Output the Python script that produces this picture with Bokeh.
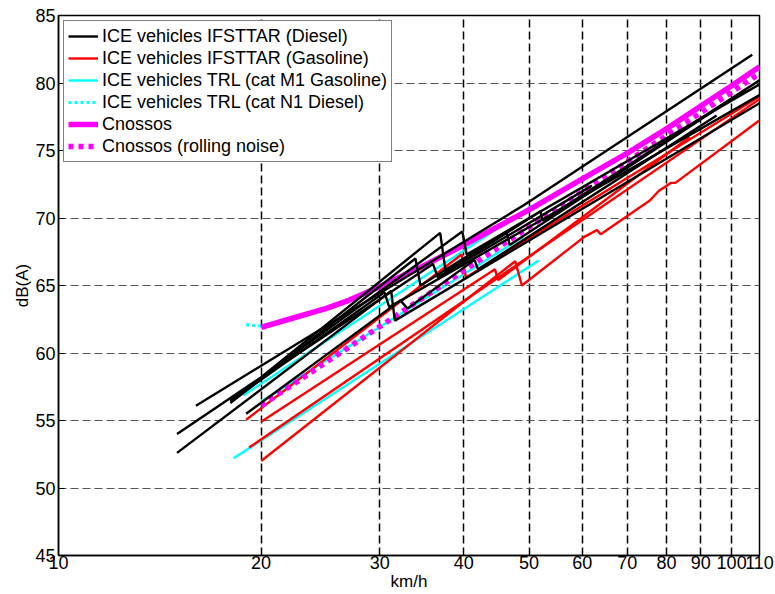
from bokeh.plotting import figure
from bokeh.models import FixedTicker, Legend, LegendItem, Range1d, BasicTickFormatter
from bokeh.embed import file_html
from bokeh.resources import INLINE

# ---------------- data ----------------
speed_ticks = [10, 20, 30, 40, 50, 60, 70, 80, 90, 100, 110]
speed_tick_labels = ["10", "20", "30", "40", "50", "60", "70", "80", "90", "100", "110"]
level_ticks = [45, 50, 55, 60, 65, 70, 75, 80, 85]
level_tick_labels = ["45", "50", "55", "60", "65", "70", "75", "80", "85"]

# ICE vehicles IFSTTAR (Diesel) - km/h and dB(A)
diesel_speeds = [
    [16, 49.1, 107.3],
    [15, 20, 36.9, 37.6, 52.0, 52.4, 110],
    [18, 39.8, 40.4, 110],
    [15, 31.2, 31.6, 110],
    [18, 33.9, 34.5, 46.3, 46.8, 105],
    [19, 32.2, 33.0, 41.5, 42.0, 95],
    [18, 30.5, 31.0, 110],
    [18, 36.0, 36.6, 62],
]
diesel_levels = [
    [56.1, 70.95, 82.1],
    [54.0, 58.2, 68.9, 66.0, 70.5, 69.8, 80.2],
    [56.5, 69.0, 67.3, 79.9],
    [52.6, 64.6, 62.4, 78.5],
    [56.3, 67.0, 65.0, 69.0, 68.0, 79.5],
    [55.5, 63.9, 63.3, 66.9, 66.2, 77.6],
    [56.4, 64.5, 63.4, 79.1],
    [56.6, 66.6, 65.6, 72.4],
]

# ICE vehicles IFSTTAR (Gasoline)
gasoline_speeds = [
    [19, 39.7, 40.3, 110],
    [20, 44.5, 45.0, 86.6],
    [19.2, 110],
    [20, 47.7, 48.8, 60.4, 63.1, 63.9, 75.6, 77.9, 81.2, 82.5, 109.8],
]
gasoline_levels = [
    [55.05, 67.3, 65.6, 79.0],
    [54.9, 66.2, 65.4, 76.0],
    [53.0, 78.8],
    [52.0, 66.8, 65.0, 68.6, 69.1, 68.8, 71.3, 72.0, 72.6, 72.6, 77.2],
]

# ICE vehicles TRL (cat M1 Gasoline)
trl_m1_speeds = [[18.2, 51.7], [18.8, 50.5], [20, 49.0]]
trl_m1_levels = [[52.2, 66.85], [56.85, 70.9], [56.4, 68.6]]

# ICE vehicles TRL (cat N1 Diesel)
trl_n1_speeds = [19, 20, 25, 30]
trl_n1_levels = [62.1, 62.0, 63.3, 64.9]

# Cnossos
cnossos_speeds = [20, 22, 25, 27, 30, 35, 40, 50, 60, 70, 80, 90, 100, 110]
cnossos_levels = [61.9, 62.5, 63.3, 63.9, 64.9, 66.5, 68.0, 70.6, 72.9, 74.8, 76.6, 78.3, 79.8, 81.2]

# Cnossos (rolling noise)
rolling_speeds = [20, 110]
rolling_levels = [56.1, 80.7]

series_labels = [
    "ICE vehicles IFSTTAR (Diesel)",
    "ICE vehicles IFSTTAR (Gasoline)",
    "ICE vehicles TRL (cat M1 Gasoline)",
    "ICE vehicles TRL (cat N1 Diesel)",
    "Cnossos",
    "Cnossos (rolling noise)",
]

# ---------------- figure ----------------
FONT = "Liberation Sans"

p = figure(width=774, height=593, x_axis_type="log",
           x_range=Range1d(10, 110), y_range=Range1d(45, 85),
           output_backend="svg", toolbar_location=None,
           min_border_left=58, min_border_right=15, min_border_top=15, min_border_bottom=38,
           x_axis_label="km/h", y_axis_label="dB(A)")
p.background_fill_color = "white"
p.border_fill_color = "white"
p.outline_line_color = "black"
p.outline_line_width = 1.5
p.outline_line_alpha = 1

p.xaxis.ticker = FixedTicker(ticks=speed_ticks, minor_ticks=[])
p.xaxis.formatter = BasicTickFormatter()
p.xaxis.major_label_overrides = {t: l for t, l in zip(speed_ticks, speed_tick_labels)}
p.yaxis.ticker = FixedTicker(ticks=level_ticks, minor_ticks=[])
p.yaxis.major_label_overrides = {t: l for t, l in zip(level_ticks, level_tick_labels)}

for ax in (p.xaxis, p.yaxis):
    ax.major_label_text_font = FONT
    ax.major_label_text_font_size = "18px"
    ax.major_label_text_color = "black"
    ax.axis_label_text_font = FONT
    ax.axis_label_text_font_size = "17px"
    ax.axis_label_text_font_style = "normal"
    ax.axis_label_text_color = "black"
    ax.axis_line_color = "black"
    ax.axis_line_width = 1.5
    ax.major_tick_in = 6
    ax.major_tick_out = 0
    ax.minor_tick_in = 0
    ax.minor_tick_out = 0
    ax.major_tick_line_color = "black"
    ax.axis_label_standoff = 0
p.xaxis.major_label_standoff = 0
p.yaxis.major_label_standoff = 3

p.xgrid.grid_line_color = "black"
p.xgrid.grid_line_width = 1.5
p.xgrid.grid_line_dash = "8 4"
p.ygrid.grid_line_color = "#555555"
p.ygrid.grid_line_width = 1
p.ygrid.grid_line_dash = "8 4"

# ---------------- lines ----------------
r_m1 = p.multi_line(xs=trl_m1_speeds, ys=trl_m1_levels, line_color="#00FFFF", line_width=2.4)
r_n1 = p.line(trl_n1_speeds, trl_n1_levels, line_color="#00FFFF", line_width=3, line_dash="3 3")
r_gas = p.multi_line(xs=gasoline_speeds, ys=gasoline_levels, line_color="#FF0000", line_width=2.4)
r_cn = p.line(cnossos_speeds, cnossos_levels, line_color="#FF00FF", line_width=5.5)
r_roll = p.line(rolling_speeds, rolling_levels, line_color="#FF00FF", line_width=5.5, line_dash="5 5")
r_die = p.multi_line(xs=diesel_speeds, ys=diesel_levels, line_color="black", line_width=2.4)

legend = Legend(items=[
    LegendItem(label=series_labels[0], renderers=[r_die]),
    LegendItem(label=series_labels[1], renderers=[r_gas]),
    LegendItem(label=series_labels[2], renderers=[r_m1]),
    LegendItem(label=series_labels[3], renderers=[r_n1]),
    LegendItem(label=series_labels[4], renderers=[r_cn]),
    LegendItem(label=series_labels[5], renderers=[r_roll]),
])
legend.location = "top_left"
legend.margin = 5
legend.padding = 4
legend.spacing = 0
legend.label_height = 22
legend.glyph_height = 22
legend.glyph_width = 30
legend.label_standoff = 4
legend.label_text_font = FONT
legend.label_text_font_size = "18px"
legend.label_text_color = "black"
legend.border_line_color = "black"
legend.border_line_width = 1.5
legend.background_fill_color = "white"
legend.background_fill_alpha = 1
p.add_layout(legend)

open("out.html", "w").write(file_html(p, INLINE))
